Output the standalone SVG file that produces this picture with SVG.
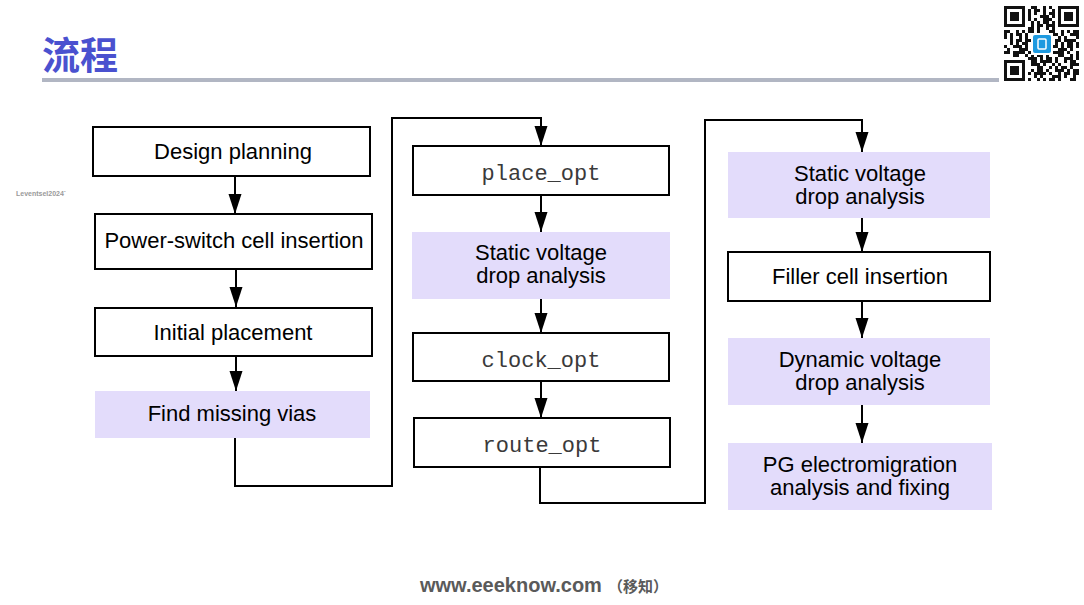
<svg xmlns="http://www.w3.org/2000/svg" width="1084" height="605" viewBox="0 0 1084 605">
<defs>
<marker id="ah" markerUnits="userSpaceOnUse" markerWidth="20" markerHeight="14" refX="20" refY="6.5" orient="auto">
<path d="M0,0 L20,6.5 L0,13 z" fill="#000"/>
</marker>
<clipPath id="qrclip"><rect x="1004" y="6" width="75" height="75"/></clipPath>
</defs>
<style>
.box{fill:#fff;stroke:#000;stroke-width:2}
.hl{fill:#e3dcfb;stroke:none}
.t{font-family:"Liberation Sans",Arial,sans-serif;font-size:22px;fill:#000;text-anchor:middle}
.m{font-family:"Liberation Mono","Courier New",monospace;font-size:22px;fill:#3a3a3a;text-anchor:middle}
.c{fill:none;stroke:#000;stroke-width:2;marker-end:url(#ah)}
.q{stroke:#111;stroke-width:3;fill:none}
.q1{stroke-dasharray:3 3 6 3 3 9 6 6 3 3}
.q2{stroke-dasharray:6 3 3 6 9 3 3 3}
.q3{stroke-dasharray:3 6 3 3 6 3 12 3}
.q4{stroke-dasharray:9 3 3 6 3 3 3 9}
</style>
<rect width="1084" height="605" fill="#fff"/>

<g id="title">
<text x="42" y="69" font-family="'Noto Sans CJK SC',sans-serif" font-weight="700" font-size="38" fill="#4a51cf">流程</text>
<rect x="42" y="78" width="957" height="4" fill="#b1b6c3"/>
</g>

<g id="qrcode" clip-path="url(#qrclip)">
<rect x="1004" y="6" width="75" height="75" fill="#fff"/>
<g class="q">
<line class="q1" x1="1004" y1="7.5" x2="1079" y2="7.5" stroke-dashoffset="0"/>
<line class="q2" x1="1004" y1="10.5" x2="1079" y2="10.5" stroke-dashoffset="6"/>
<line class="q3" x1="1004" y1="13.5" x2="1079" y2="13.5" stroke-dashoffset="9"/>
<line class="q4" x1="1004" y1="16.5" x2="1079" y2="16.5" stroke-dashoffset="3"/>
<line class="q2" x1="1004" y1="19.5" x2="1079" y2="19.5" stroke-dashoffset="15"/>
<line class="q1" x1="1004" y1="22.5" x2="1079" y2="22.5" stroke-dashoffset="12"/>
<line class="q3" x1="1004" y1="25.5" x2="1079" y2="25.5" stroke-dashoffset="21"/>
<line class="q4" x1="1004" y1="28.5" x2="1079" y2="28.5" stroke-dashoffset="18"/>
<line class="q1" x1="1004" y1="31.5" x2="1079" y2="31.5" stroke-dashoffset="27"/>
<line class="q2" x1="1004" y1="34.5" x2="1079" y2="34.5" stroke-dashoffset="24"/>
<line class="q4" x1="1004" y1="37.5" x2="1079" y2="37.5" stroke-dashoffset="6"/>
<line class="q3" x1="1004" y1="40.5" x2="1079" y2="40.5" stroke-dashoffset="3"/>
<line class="q1" x1="1004" y1="43.5" x2="1079" y2="43.5" stroke-dashoffset="33"/>
<line class="q2" x1="1004" y1="46.5" x2="1079" y2="46.5" stroke-dashoffset="9"/>
<line class="q4" x1="1004" y1="49.5" x2="1079" y2="49.5" stroke-dashoffset="24"/>
<line class="q3" x1="1004" y1="52.5" x2="1079" y2="52.5" stroke-dashoffset="15"/>
<line class="q1" x1="1004" y1="55.5" x2="1079" y2="55.5" stroke-dashoffset="18"/>
<line class="q2" x1="1004" y1="58.5" x2="1079" y2="58.5" stroke-dashoffset="30"/>
<line class="q3" x1="1004" y1="61.5" x2="1079" y2="61.5" stroke-dashoffset="27"/>
<line class="q4" x1="1004" y1="64.5" x2="1079" y2="64.5" stroke-dashoffset="12"/>
<line class="q1" x1="1004" y1="67.5" x2="1079" y2="67.5" stroke-dashoffset="39"/>
<line class="q2" x1="1004" y1="70.5" x2="1079" y2="70.5" stroke-dashoffset="3"/>
<line class="q3" x1="1004" y1="73.5" x2="1079" y2="73.5" stroke-dashoffset="33"/>
<line class="q4" x1="1004" y1="76.5" x2="1079" y2="76.5" stroke-dashoffset="30"/>
<line class="q1" x1="1004" y1="79.5" x2="1079" y2="79.5" stroke-dashoffset="6"/>
</g>
<rect x="1004" y="6" width="24" height="24" fill="#fff"/>
<rect x="1055" y="6" width="24" height="24" fill="#fff"/>
<rect x="1004" y="57" width="24" height="24" fill="#fff"/>
<rect x="1005.5" y="7.5" width="18" height="18" fill="none" stroke="#111" stroke-width="3"/>
<rect x="1010" y="12" width="9" height="9" fill="#111"/>
<rect x="1059.5" y="7.5" width="18" height="18" fill="none" stroke="#111" stroke-width="3"/>
<rect x="1064" y="12" width="9" height="9" fill="#111"/>
<rect x="1005.5" y="61.5" width="18" height="18" fill="none" stroke="#111" stroke-width="3"/>
<rect x="1010" y="66" width="9" height="9" fill="#111"/>
<rect x="1031" y="33" width="22" height="22" fill="#fff"/>
<rect x="1033" y="35" width="18" height="18" rx="2" fill="#1e9ae0"/>
<rect x="1038" y="39" width="8" height="10" rx="1" fill="none" stroke="#fff" stroke-width="1.5"/>
</g>

<g id="connectors">
<path class="c" d="M235,176 V214"/>
<path class="c" d="M236,269 V307"/>
<path class="c" d="M236,356 V391"/>
<path class="c" d="M235,438 V486 H392 V118 H541 V146"/>
<path class="c" d="M541,195 V232"/>
<path class="c" d="M541,299 V333"/>
<path class="c" d="M541,381 V418"/>
<path class="c" d="M540,467 V503 H705 V120 H862 V152"/>
<path class="c" d="M862,218 V252"/>
<path class="c" d="M862,301 V338"/>
<path class="c" d="M862,405 V443"/>
</g>

<g id="n-design-planning">
<rect class="box" x="93" y="127" width="277" height="49"/>
<text class="t" x="233" y="159" font-size="21">Design planning</text>
</g>
<g id="n-power-switch">
<rect class="box" x="95" y="214" width="277" height="55"/>
<text class="t" x="234" y="248">Power-switch cell insertion</text>
</g>
<g id="n-initial-placement">
<rect class="box" x="95" y="308" width="277" height="48"/>
<text class="t" x="233" y="340">Initial placement</text>
</g>
<g id="n-find-missing-vias">
<rect class="hl" x="95" y="391" width="275" height="47"/>
<text class="t" x="232" y="421">Find missing vias</text>
</g>

<g id="n-place-opt">
<rect class="box" x="413" y="146" width="256" height="49"/>
<text class="m" x="541" y="180">place_opt</text>
</g>
<g id="n-static-1">
<rect class="hl" x="412" y="232" width="258" height="67"/>
<text class="t" x="541" y="260">Static voltage</text>
<text class="t" x="541" y="283">drop analysis</text>
</g>
<g id="n-clock-opt">
<rect class="box" x="413" y="333" width="256" height="48"/>
<text class="m" x="541" y="367">clock_opt</text>
</g>
<g id="n-route-opt">
<rect class="box" x="414" y="418" width="256" height="49"/>
<text class="m" x="542" y="452">route_opt</text>
</g>

<g id="n-static-2">
<rect class="hl" x="728" y="152" width="262" height="66"/>
<text class="t" x="860" y="181">Static voltage</text>
<text class="t" x="860" y="204">drop analysis</text>
</g>
<g id="n-filler">
<rect class="box" x="728" y="252" width="262" height="49"/>
<text class="t" x="860" y="284">Filler cell insertion</text>
</g>
<g id="n-dynamic">
<rect class="hl" x="728" y="338" width="262" height="67"/>
<text class="t" x="860" y="367">Dynamic voltage</text>
<text class="t" x="860" y="390">drop analysis</text>
</g>
<g id="n-pg-em">
<rect class="hl" x="728" y="443" width="264" height="67"/>
<text class="t" x="860" y="472">PG electromigration</text>
<text class="t" x="860" y="495">analysis and fixing</text>
</g>

<g id="footer">
<text x="16" y="196" font-family="'Liberation Sans',Arial,sans-serif" font-weight="700" font-size="7" fill="#9a9a9a">Leventsel2024`</text>
<text x="420" y="592" font-family="'Liberation Sans',Arial,sans-serif" font-weight="700" font-size="20" fill="#5a5a5a">www.eeeknow.com</text>
<text x="608" y="592" font-family="'Noto Sans CJK SC',sans-serif" font-weight="700" font-size="15" fill="#5a5a5a">（移知）</text>
</g>
</svg>
